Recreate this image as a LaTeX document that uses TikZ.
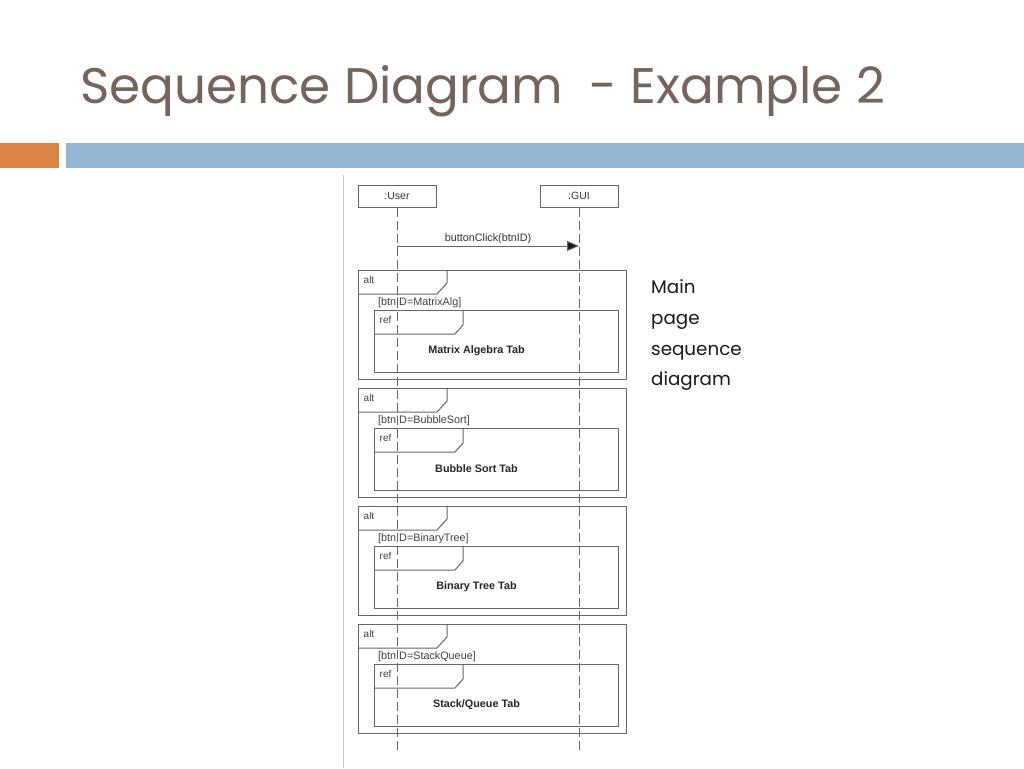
\documentclass[tikz,border=0pt]{standalone}
\usepackage{fontspec}
\setmainfont{Liberation Sans}
\newfontfamily\titlefont{Poppins}
\usetikzlibrary{arrows.meta,calc}
\definecolor{titlebrown}{HTML}{76635B}
\definecolor{barorange}{HTML}{DD8447}
\definecolor{barblue}{HTML}{93B6D2}
\definecolor{linegray}{HTML}{666666}
\begin{document}
\begin{tikzpicture}[x=1pt,y=-1pt,
  lifebox/.style={draw=linegray,line width=1pt,minimum width=78pt,minimum height=22pt,inner sep=0pt,font=\fontsize{10.5}{11}\selectfont,text=black!80},
  lifeline/.style={draw=linegray,line width=1pt,dash pattern=on 9pt off 4pt},
  framebox/.style={draw=linegray,line width=1pt},
  smalltxt/.style={font=\fontsize{10}{11}\selectfont,text=black!75,inner sep=0pt,anchor=west},
  guardtxt/.style={font=\fontsize{10.8}{12}\selectfont,text=black!75,inner sep=0pt,anchor=west},
  boldtxt/.style={font=\bfseries\fontsize{10.8}{12}\selectfont,text=black!85,inner sep=0pt},
  sidetxt/.style={font=\titlefont\fontsize{18.3}{20}\selectfont,text=black!90,inner sep=0pt,anchor=base west}]
\useasboundingbox (0,0) rectangle (1024,768);
\fill[white] (0,0) rectangle (1024,768);
% title
\node[font=\titlefont\fontsize{50}{56}\selectfont,text=titlebrown,anchor=base west,inner sep=0pt] (title) at (80,103) {Sequence Diagram\ \ - Example 2};
% bars
\fill[barorange] (0,143) rectangle (59,168);
\fill[barblue] (66,143) rectangle (1024,168);
% image border line
\draw[black!22,line width=0.8pt] (343,175) -- (343,768);
% lifeline heads
\node[lifebox] (user) at (397,196) {:User};
\node[lifebox] (gui) at (579,196) {:GUI};
\coordinate (userend) at (397,752);
\coordinate (guiend) at (579,752);
\coordinate (msgA) at (397,246);
\coordinate (msgB) at (579,246);
% frames
\foreach \t/\guard/\body [count=\i] in {270/MatrixAlg/{Matrix Algebra Tab},388/BubbleSort/{Bubble Sort Tab},506/BinaryTree/{Binary Tree Tab},624/StackQueue/{Stack/Queue Tab}}{
  \draw[framebox] (358,\t) rectangle (626,\t+109);
  \draw[framebox] (447,\t) -- (447,\t+13) -- (437,\t+24) -- (358,\t+24);
  \node[smalltxt] (alt\i) at (363.5,\t+10) {alt};
  \node[guardtxt] (guard\i) at (378,\t+33) {[btnID=\guard]};
  \draw[framebox] (374,\t+40) rectangle (618,\t+102);
  \draw[framebox] (463,\t+40) -- (463,\t+55) -- (455,\t+64) -- (374,\t+64);
  \node[smalltxt] (ref\i) at (379.5,\t+50) {ref};
  \node[boldtxt] (body\i) at (476.5,\t+81) {\body};
}
% lifelines
\draw[lifeline] (user.south) -- (userend);
\draw[lifeline] (gui.south) -- (guiend);
% message
\draw[draw=linegray,line width=1pt,-{Triangle[length=12pt,width=10pt,fill=black!90]}] (msgA) -- node[above=2pt,font=\fontsize{10.8}{12}\selectfont,text=black!80,inner sep=0pt] (msglabel) {buttonClick(btnID)} (msgB);
% side text
\node[sidetxt] (s1) at (651,293) {Main};
\node[sidetxt] (s2) at (651,324) {page};
\node[sidetxt] (s3) at (651,355) {sequence};
\node[sidetxt] (s4) at (651,385.5) {diagram};
\end{tikzpicture}
\end{document}
